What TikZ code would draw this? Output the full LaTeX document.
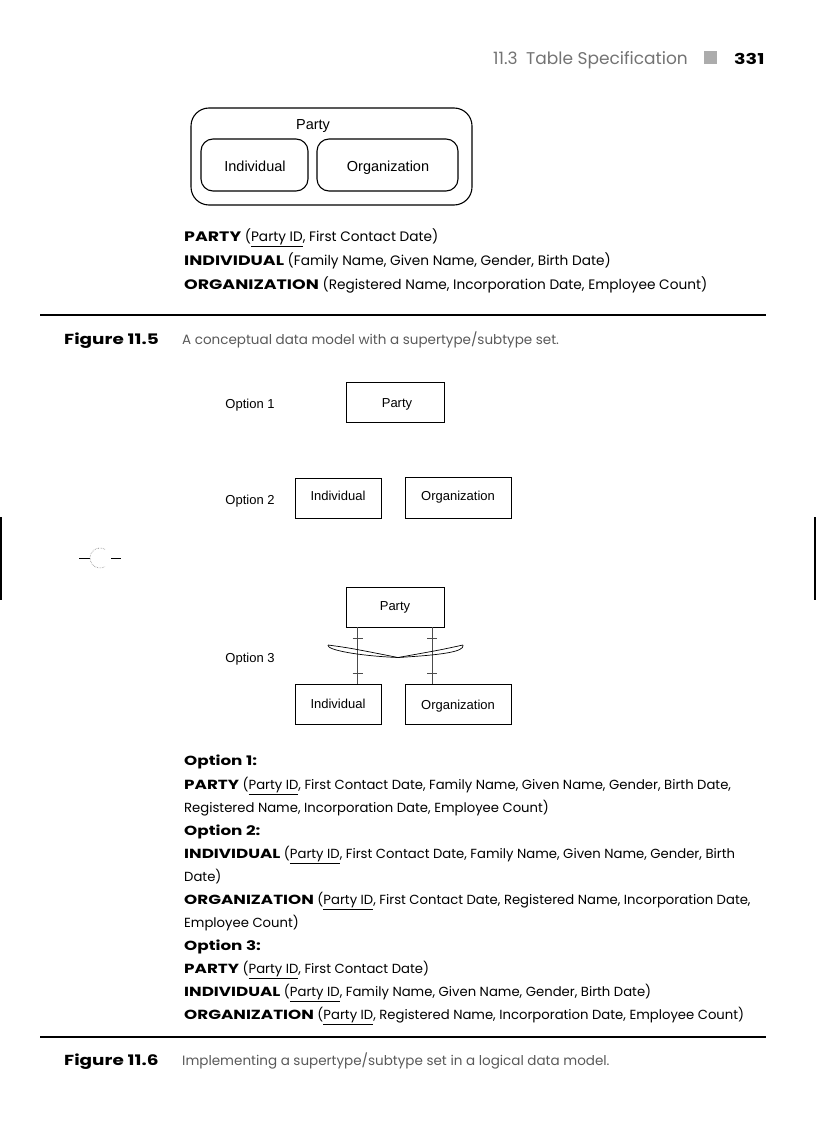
\documentclass[tikz,border=0pt]{standalone}
\usepackage{fontspec}
\setmainfont{Poppins}[BoldFeatures={FakeStretch=1.27}]
\newfontfamily\arial{Liberation Sans}
\usetikzlibrary{calc}
\definecolor{capgray}{gray}{0.35}
\definecolor{hdrgray}{gray}{0.45}
\tikzset{
  lbl/.style={font=\arial\fontsize{13}{15}\selectfont, inner sep=0pt},
  toplbl/.style={font=\arial\fontsize{14.5}{16}\selectfont, inner sep=0pt},
  entity/.style={draw, line width=0.8pt, inner sep=0pt},
  rbox/.style={draw, line width=1.1pt, rounded corners=12pt, inner sep=0pt},
  bodytop/.style={anchor=base west, inner sep=0pt, font=\fontsize{13.7}{16}\selectfont},
  body/.style={anchor=base west, inner sep=0pt, font=\fontsize{13.2}{16}\selectfont},
  caption/.style={anchor=base west, inner sep=0pt, font=\fontsize{13.5}{16}\selectfont, text=capgray},
  figlbl/.style={anchor=base west, inner sep=0pt, font=\bfseries\fontsize{14.5}{16}\selectfont},
  rulel/.style={line width=1.4pt},
  conn/.style={line width=0.7pt, draw=black!70},
}
\begin{document}
\begin{tikzpicture}[x=1pt,y=-1pt]
\useasboundingbox (0,0) rectangle (816,1123);

% header
\node[anchor=base west, inner sep=0pt, font=\fontsize{17}{19}\selectfont, text=hdrgray] (hdr) at (493,65) {11.3\enspace Table Specification};
\node[fill=gray!65, minimum width=13pt, minimum height=13pt, inner sep=0pt] (sq) at (710.5,57.5) {};
\node[anchor=base west, inner sep=0pt, font=\bfseries\fontsize{15}{17}\selectfont] (pg) at (734,65) {331};

% top figure
\node[rbox, rounded corners=18pt, minimum width=281pt, minimum height=97pt] (outer) at (331.5,156.5) {};
\node[toplbl] (partyT) at (313,126) {Party};
\node[rbox, minimum width=107pt, minimum height=52pt] (indT) at (254.5,165) {};
\node[toplbl] (indTl) at (255,166) {Individual};
\node[rbox, minimum width=141pt, minimum height=52pt] (orgT) at (387.5,165) {};
\node[toplbl] (orgTl) at (388,168) {Organization};

% text block 1
\node[bodytop] (t1) at (184,241) {\textbf{PARTY} (\underline{Party ID}, First Contact Date)};
\node[bodytop] (t2) at (184,265) {\textbf{INDIVIDUAL} (Family Name, Given Name, Gender, Birth Date)};
\node[bodytop] (t3) at (184,289) {\textbf{ORGANIZATION} (Registered Name, Incorporation Date, Employee Count)};

% rule + caption 11.5
\coordinate (r1a) at (40,315);
\coordinate (r1b) at (766,315);
\draw[rulel] (r1a) -- (r1b);
\node[figlbl] (f5) at (64,344) {Figure 11.5};
\node[caption] (c5) at (182,344) {A conceptual data model with a supertype/subtype set.};

% option 1
\node[lbl] (o1) at (250,405) {Option 1};
\node[entity, minimum width=98pt, minimum height=40pt] (p1) at (395,402) {};
\node[lbl] (p1l) at (397,404) {Party};

% option 2
\node[lbl] (o2) at (250,501) {Option 2};
\node[entity, minimum width=86pt, minimum height=40pt] (i2) at (338,498) {};
\node[lbl] (i2l) at (338,496) {Individual};
\node[entity, minimum width=106pt, minimum height=41pt] (g2) at (458,497.5) {};
\node[lbl] (g2l) at (458,497) {Organization};

% left artifact
\coordinate (am1) at (79,558);
\coordinate (am2) at (90,558);
\coordinate (am3) at (111,558);
\coordinate (am4) at (121,558);
\draw[line width=0.8pt] (am1) -- (am2);
\draw[line width=0.8pt] (am3) -- (am4);
\draw[line width=0.6pt, gray, densely dotted] (105,549.3) arc[start angle=-60, end angle=-300, radius=10];

% edge bars
\coordinate (eb1) at (1,517);
\coordinate (eb2) at (1,600);
\coordinate (eb3) at (815,517);
\coordinate (eb4) at (815,600);
\draw[line width=1.4pt] (eb1) -- (eb2);
\draw[line width=1.4pt] (eb3) -- (eb4);

% option 3
\node[lbl] (o3) at (250,659) {Option 3};
\node[entity, minimum width=98pt, minimum height=40pt] (p3) at (395,607) {};
\node[lbl] (p3l) at (395,607) {Party};
\node[entity, minimum width=86pt, minimum height=40pt] (i3) at (338,704) {};
\node[lbl] (i3l) at (338,704) {Individual};
\node[entity, minimum width=106pt, minimum height=40pt] (g3) at (458,704) {};
\node[lbl] (g3l) at (458,706) {Organization};

\coordinate (la) at ([xshift=12pt]p3.south west);
\coordinate (ra) at ([xshift=-12pt]p3.south east);
\draw[conn] (la) -- (la |- i3.north);
\draw[conn] (ra) -- (ra |- g3.north);
\foreach \c in {la,ra}{
  \draw[conn] ($(\c)+(-5,11)$) -- ++(10,0);
  \draw[conn] ($(\c)+(-5,46)$) -- ++(10,0);
}
% exclusive arc
\coordinate (xl) at (328,645);
\coordinate (xm) at (398,657.5);
\coordinate (xr) at (463,645);
\draw[line width=0.7pt] (xl) .. controls (350,648) .. (xm) .. controls (440,650) .. (xr);
\draw[line width=0.7pt] (xl) .. controls (326,650) and (360,656) .. (xm) .. controls (440,655) and (465,652) .. (xr);

% text block 2
\node[body] (b1) at (184,765) {\textbf{Option 1:}};
\node[body] (b2) at (184,789) {\textbf{PARTY} (\underline{Party ID}, First Contact Date, Family Name, Given Name, Gender, Birth Date,};
\node[body] (b3) at (184,812) {Registered Name, Incorporation Date, Employee Count)};
\node[body] (b4) at (184,835) {\textbf{Option 2:}};
\node[body] (b5) at (184,858) {\textbf{INDIVIDUAL} (\underline{Party ID}, First Contact Date, Family Name, Given Name, Gender, Birth};
\node[body] (b6) at (184,881) {Date)};
\node[body] (b7) at (184,904) {\textbf{ORGANIZATION} (\underline{Party ID}, First Contact Date, Registered Name, Incorporation Date,};
\node[body] (b8) at (184,927) {Employee Count)};
\node[body] (b9) at (184,950) {\textbf{Option 3:}};
\node[body] (b10) at (184,973) {\textbf{PARTY} (\underline{Party ID}, First Contact Date)};
\node[body] (b11) at (184,996) {\textbf{INDIVIDUAL} (\underline{Party ID}, Family Name, Given Name, Gender, Birth Date)};
\node[body] (b12) at (184,1019) {\textbf{ORGANIZATION} (\underline{Party ID}, Registered Name, Incorporation Date, Employee Count)};

% rule + caption 11.6
\coordinate (r2a) at (40,1037);
\coordinate (r2b) at (766,1037);
\draw[rulel] (r2a) -- (r2b);
\node[figlbl] (f6) at (64,1065) {Figure 11.6};
\node[caption] (c6) at (182,1065) {Implementing a supertype/subtype set in a logical data model.};
\end{tikzpicture}
\end{document}
